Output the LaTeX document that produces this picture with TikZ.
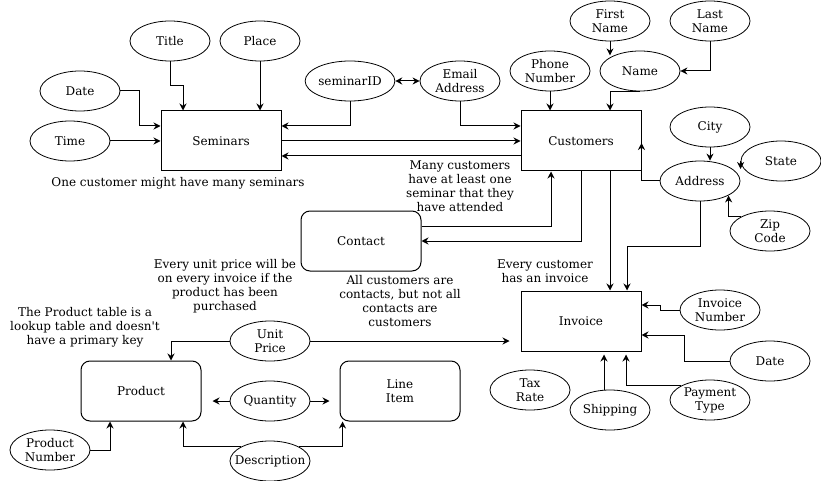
\documentclass[tikz,border=0pt]{standalone}
\usepackage{fontspec}
\setmainfont{DejaVu Serif}
\usetikzlibrary{shapes.geometric,arrows.meta,calc}
\tikzset{
  base/.style={font=\fontsize{12}{14}\selectfont, align=center, inner sep=0pt},
  attr/.style={base, ellipse, draw, line width=0.8pt, minimum width=80pt, minimum height=40pt},
  ent/.style={base, rectangle, draw, line width=1pt, minimum width=120pt, minimum height=60pt},
  rent/.style={ent, rounded corners=9pt},
  note/.style={base},
  arr/.style={line width=1pt, -{Stealth[length=7pt,width=7pt]}},
  darr/.style={line width=1pt, {Stealth[length=7pt,width=7pt]}-{Stealth[length=7pt,width=7pt]}},
}
\begin{document}
\begin{tikzpicture}[x=1pt,y=-1pt]
\fill[white] (0,0) rectangle (821,481);
\useasboundingbox (0,0) rectangle (821,481);

% entities
\node[ent]  (sem)     at (221,141) {Seminars};
\node[ent]  (cust)    at (581,141) {Customers};
\node[rent] (contact) at (361,241) {Contact};
\node[ent]  (inv)     at (581,321) {Invoice};
\node[rent] (prod)    at (141,391) {Product};
\node[rent] (line)    at (400,391) {Line\\Item};

% attributes
\node[attr] (title)  at (170,41)  {Title};
\node[attr] (place)  at (260,41)  {Place};
\node[attr] (date)   at (80,91)   {Date};
\node[attr] (time)   at (70,141)  {Time};
\node[attr] (sid)    at (350,81)  {seminarID};
\node[attr] (email)  at (460,81)  {Email\\Address};
\node[attr] (phone)  at (550,71)  {Phone\\Number};
\node[attr] (first)  at (610,21)  {First\\Name};
\node[attr] (last)   at (710,21)  {Last\\Name};
\node[attr] (name)   at (640,71)  {Name};
\node[attr] (city)   at (710,127) {City};
\node[attr] (state)  at (781,161) {State};
\node[attr] (addr)   at (700,181) {Address};
\node[attr] (zip)    at (770,231) {Zip\\Code};
\node[attr] (invnum) at (720,310) {Invoice\\Number};
\node[attr] (date2)  at (770,361) {Date};
\node[attr] (tax)    at (530,390) {Tax\\Rate};
\node[attr] (ship)   at (610,410) {Shipping};
\node[attr] (pay)    at (710,400) {Payment\\Type};
\node[attr] (unit)   at (270,341) {Unit\\Price};
\node[attr] (qty)    at (270,401) {Quantity};
\node[attr] (pnum)   at (50,450)  {Product\\Number};
\node[attr] (desc)   at (270,461) {\makebox[0pt]{Description}};

% notes
\node[note] (n1) at (178,183) {One customer might have many seminars};
\node[note] (n2) at (460,186) {Many customers\\have at least one\\seminar that they\\have attended};
\node[note] (n3) at (545,271.5) {Every customer\\has an invoice};
\node[note] (n4) at (225,286) {Every unit price will be\\on every invoice if the\\product has been\\purchased};
\node[note] (n5) at (400,301.5) {All customers are\\contacts, but not all\\contacts are\\customers};
\node[note] (n6) at (85,327) {The Product table is a\\lookup table and doesn\textquotesingle t\\have a primary key};

% seminar attributes
\draw[arr] (title.south) -- ++(0,24) -| ($(sem.north)+(-38,0)$);
\draw[arr] (place.south) -- (place.south |- sem.north);
\draw[arr] (date.east) -- ++(19,0) |- ($(sem.west)+(0,-15)$);
\draw[arr] (time.east) -- (sem.west);
\draw[arr] (sid.south) |- ($(sem.east)+(0,-15)$);

% seminars <-> customers
\draw[arr] (sem.east) -- (cust.west);
\draw[arr] ($(cust.west)+(0,15)$) -- ($(sem.east)+(0,15)$);
\draw[darr] (sid.east) -- (email.west);

% customer attributes
\draw[arr] (email.south) |- ($(cust.west)+(0,-15)$);
\draw[arr] (phone.south) -- (phone.south |- cust.north);
\draw[arr] (first.south) -- ($(first.south)+(0,14)$);
\draw[arr] (last.south) |- (name.east);
\draw[arr] (name.south) -| ($(cust.north)+(29,0)$);
\draw[arr] (city.south) -- (city.south |- addr.north);
\draw[arr] (state.west) -- ++(0,8);
\draw[arr] (zip.north west) -| (addr.south east);
\draw[arr] (addr.west) -| ($(cust.east)+(0,2)$);

% contact
\draw[arr] ($(contact.east)+(0,-15)$) -| ($(cust.south)+(-30,0)$);
\draw[arr] (cust.south) |- (contact.east);

% invoice
\draw[arr] ($(cust.south)+(29,0)$) -- ($(inv.north)+(29,0)$);
\draw[arr] (addr.south) -- ++(0,45) -| ($(inv.north)+(46,0)$);
\draw[arr] (invnum.west) -- ++(-19,0) |- ($(inv.east)+(0,-16)$);
\draw[arr] (date2.west) -- ++(-45,0) |- ($(inv.east)+(0,14)$);
\draw[arr] ($(ship.north)+(-6,0)$) -- ($(inv.south)+(23,3)$);
\draw[arr] (pay.north west) -| ($(inv.south)+(45,3)$);
\draw[arr] (unit.east) -- ($(inv.west)+(-11,20)$);

% product side
\draw[arr] (unit.west) -| ($(prod.north)+(30,0)$);
\draw[arr] (qty.west) -- ($(prod.east)+(11,10)$);
\draw[arr] (qty.east) -- ($(line.west)+(-10,10)$);
\draw[arr] (pnum.east) -| ($(prod.south)+(-31,0)$);
\draw[arr] (desc.north west) -| ($(prod.south)+(42,0)$);
\draw[arr] (desc.north east) -| ($(line.south west)+(3,0)$);
\end{tikzpicture}
\end{document}
